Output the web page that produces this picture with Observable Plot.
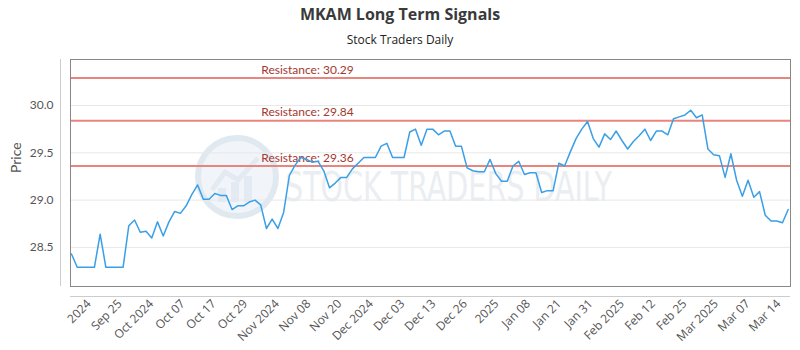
<!DOCTYPE html>
<html><head><meta charset="utf-8">
<script src="https://cdn.jsdelivr.net/npm/d3@7"></script>
<script src="https://cdn.jsdelivr.net/npm/@observablehq/plot@0.6"></script>
<style>
body{margin:0;background:#fff;}
#wrap{position:relative;width:800px;height:350px;overflow:hidden;}
#head{position:relative;height:50px;width:800px;text-align:center;font-family:"Open Sans",sans-serif;}
#title{position:absolute;top:3px;left:0;width:800px;font-weight:bold;font-size:16px;color:#3a3a3a;line-height:22px;}
#sub{position:absolute;top:31px;left:0;width:800px;font-size:12px;color:#222;line-height:18px;}
#wm{position:absolute;left:0;top:0;z-index:0;}
#chart{position:relative;z-index:1;}
#chart svg{background:transparent;display:block;}
</style></head>
<body>
<div id="wrap">
<svg id="wm" width="800" height="350">
  <circle cx="237" cy="177" r="39" fill="#f1f5f9" stroke="#e1e9f0" stroke-width="6"/>
  <path d="M212 190 L225 172 L238 180 L258 158" fill="none" stroke="#e3eaf1" stroke-width="5"/>
  <rect x="218" y="188" width="8" height="14" fill="#e3eaf1"/>
  <rect x="231" y="182" width="8" height="20" fill="#e3eaf1"/>
  <rect x="244" y="176" width="8" height="26" fill="#e3eaf1"/>
  <text x="285" y="201" font-family="DejaVu Sans Condensed, DejaVu Sans" font-size="40" fill="#eaeef2" textLength="327" lengthAdjust="spacingAndGlyphs">STOCK TRADERS DAILY</text>
</svg>
<div id="head"><div id="title">MKAM Long Term Signals</div><div id="sub">Stock Traders Daily</div></div>
<div id="chart"></div>
</div>
<script>
const prices = [28.43,28.29,28.29,28.29,28.29,28.64,28.29,28.29,28.29,28.29,
28.73,28.79,28.66,28.67,28.60,28.77,28.62,28.77,28.88,28.86,
28.94,29.06,29.16,29.01,29.01,29.07,29.05,29.05,28.90,28.94,
28.94,28.98,29.00,28.95,28.70,28.80,28.70,28.87,29.26,29.37,
29.45,29.43,29.40,29.41,29.31,29.13,29.18,29.24,29.24,29.33,
29.39,29.45,29.45,29.45,29.57,29.60,29.45,29.45,29.45,29.72,
29.75,29.58,29.75,29.75,29.69,29.73,29.73,29.57,29.57,29.34,
29.31,29.30,29.30,29.43,29.28,29.20,29.20,29.36,29.41,29.27,
29.29,29.29,29.08,29.10,29.10,29.39,29.36,29.51,29.65,29.75,
29.83,29.65,29.56,29.70,29.64,29.73,29.63,29.54,29.62,29.68,
29.75,29.63,29.73,29.73,29.69,29.86,29.88,29.90,29.95,29.87,
29.90,29.54,29.48,29.47,29.24,29.49,29.21,29.04,29.21,29.03,
29.09,28.84,28.78,28.78,28.76,28.90];
const tickLabels = ["2024","Sep 25","Oct 2024","Oct 07","Oct 17","Oct 29","Nov 2024","Nov 08","Nov 20","Dec 2024","Dec 03","Dec 13","Dec 26","2025","Jan 08","Jan 21","Jan 31","Feb 2025","Feb 12","Feb 25","Mar 2025","Mar 07","Mar 14"];
const tickPos = [3.7,9.1,14.6,20.1,25.5,31.0,36.5,42.0,47.4,52.9,58.4,63.8,69.3,74.8,80.3,85.7,91.2,96.7,102.1,107.6,113.1,118.6,124.0];
const yTicks = [28.5,29.0,29.5,30.0];
const resistance = [30.29,29.84,29.36];
const resistanceLabelAt = 33.1;
const xDomain = [-0.17,125.4];
const yDomain = [28.087,30.486];

const series = prices.map((v,i)=>({i, v}));
const ticks = tickPos.map((p,i)=>({p, label: tickLabels[i]}));

const chart = Plot.plot({
  width: 800, height: 300,
  marginLeft: 70, marginRight: 10, marginTop: 9, marginBottom: 64,
  style: {background:"transparent", fontFamily:"Lato, sans-serif", fontSize:"12px", color:"#555"},
  x: {type:"linear", domain: xDomain, axis: null},
  y: {domain: yDomain, axis: null},
  marks: [
    Plot.gridY(yTicks, {stroke:"#e8e8e8", strokeOpacity:1}),
    Plot.axisY(yTicks, {tickSize:0, tickPadding:17, tickFormat:d=>d.toFixed(1), label:null, fill:"#555", fontSize:12}),
    Plot.text(["Price"], {frameAnchor:"left", dx:-54, rotate:-90, fill:"#555", fontSize:14, fontFamily:"Lato, sans-serif"}),
    Plot.ruleX([xDomain[0]], {dx:-10, stroke:"#ccc"}),
    Plot.ruleY([yDomain[0]], {dy:10, stroke:"#ccc"}),
    Plot.ruleY(resistance, {stroke:"#e8857f", strokeWidth:2}),
    Plot.text(resistance, {x:()=>resistanceLabelAt, y:d=>d, text:d=>`Resistance: ${d.toFixed(2)}`, textAnchor:"start", dy:-8, fill:"#a3382f", fontSize:12}),
    Plot.line(series, {x:"i", y:"v", stroke:"#3a9fe6", strokeWidth:1.5}),
    Plot.frame({stroke:"#888"}),
    Plot.text(ticks, {x:"p", frameAnchor:"bottom", dy:18, dx:-1, rotate:-45, textAnchor:"end", text:"label", fill:"#555", fontSize:12, fontFamily:"Open Sans, sans-serif"})
  ]
});
document.getElementById("chart").appendChild(chart);
</script>
</body></html>
